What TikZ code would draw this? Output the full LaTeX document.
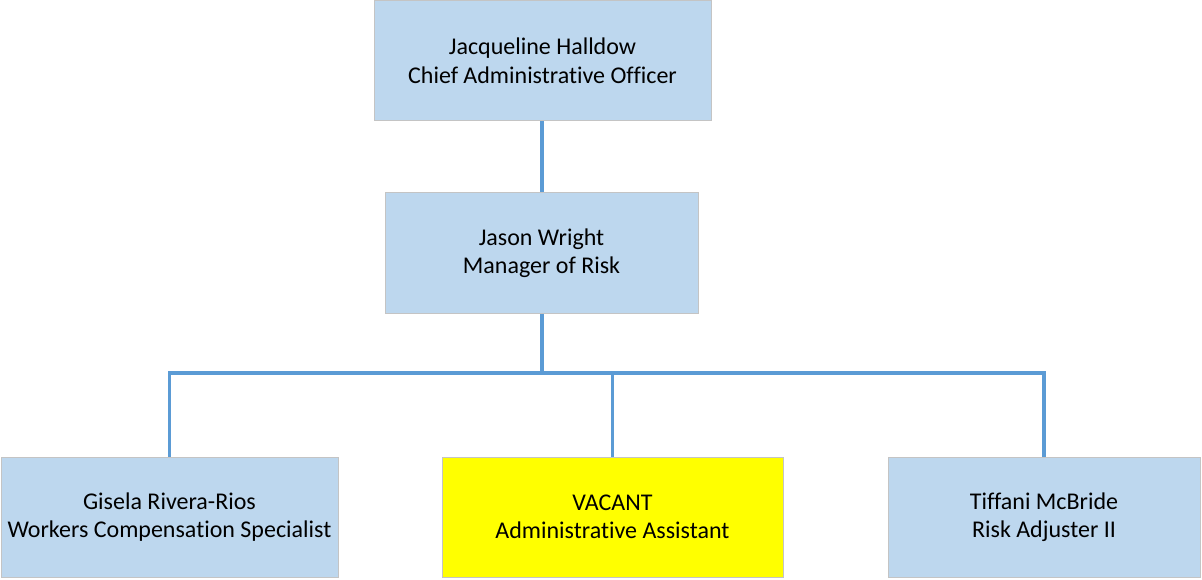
\documentclass[tikz,border=0pt]{standalone}
\usepackage{fontspec}
\setmainfont[Ligatures=NoCommon]{Carlito}
\definecolor{boxblue}{HTML}{BDD7EE}
\definecolor{linkblue}{HTML}{5B9BD5}
\definecolor{boxedge}{HTML}{C4C4C4}
\definecolor{vacant}{HTML}{FFFF00}
\begin{document}
\begin{tikzpicture}[x=1pt,y=-1pt,
  person/.style={draw=boxedge, line width=1pt, fill=boxblue, align=center,
    font=\fontsize{24}{28.5}\selectfont, inner sep=0pt},
  link/.style={draw=linkblue, line width=3.6pt}]
\useasboundingbox (0,0) rectangle (1202,580);
\node[person, minimum width=337pt, minimum height=120pt] (cao) at (542.5,61) {Jacqueline Halldow\\Chief Administrative Officer};
\node[person, minimum width=313pt, minimum height=120pt] (mgr) at (541.5,253) {Jason Wright\\Manager of Risk};
\node[person, minimum width=337pt, minimum height=120pt] (wcs) at (169.5,517) {Gisela Rivera-Rios\\Workers Compensation Specialist};
\node[person, fill=vacant, minimum width=341pt, minimum height=120pt] (va) at (612.5,517) {VACANT\\Administrative Assistant};
\node[person, minimum width=312pt, minimum height=120pt] (ra) at (1044,517) {Tiffani McBride\\Risk Adjuster II};
\coordinate (bus) at (542,373);
\draw[link] (cao.south -| bus) -- (mgr.north -| bus);
\draw[link] (mgr.south -| bus) -- (bus);
\draw[link] (bus) -| (wcs.north);
\draw[link] (bus) -| (va.north);
\draw[link] (bus) -| (ra.north);
\end{tikzpicture}
\end{document}
